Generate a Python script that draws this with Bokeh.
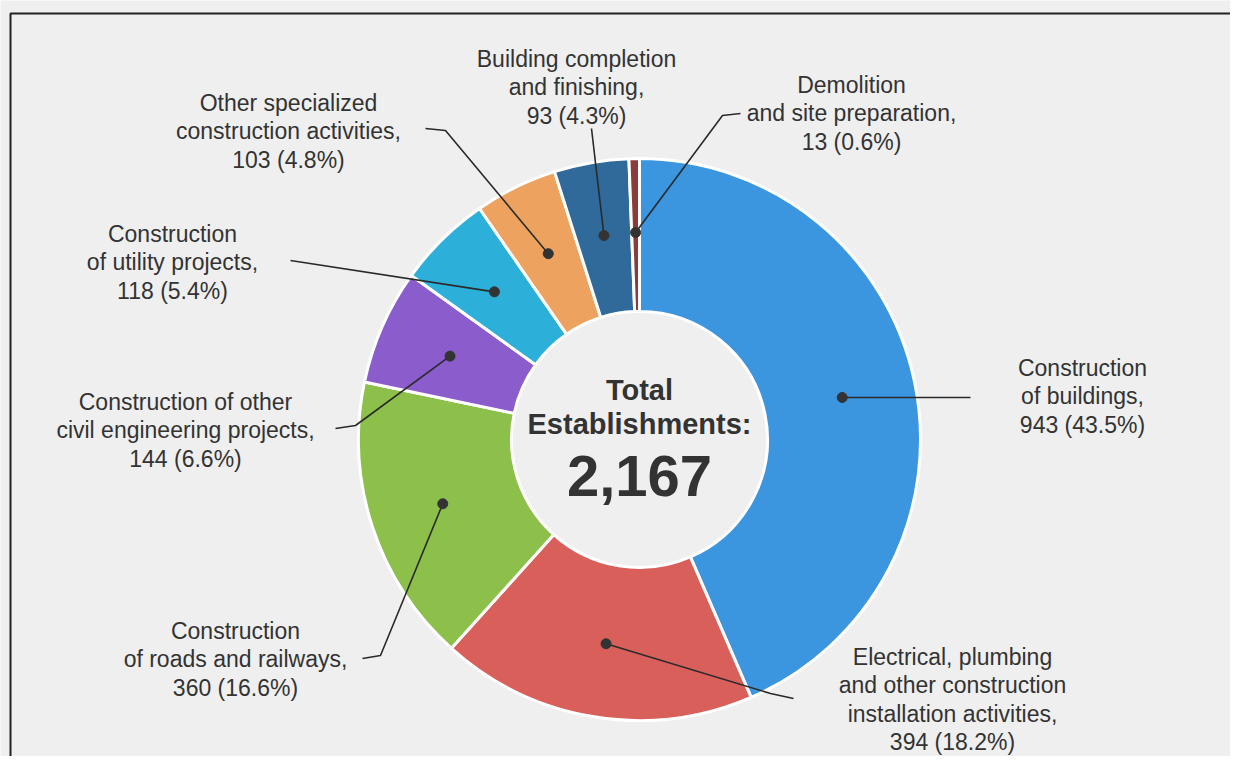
import math
from bokeh.plotting import figure
from bokeh.models import Range1d, ColumnDataSource
from bokeh.core.properties import value
from bokeh.embed import file_html
from bokeh.resources import INLINE

# ---- data ----
categories = [
    "Construction\nof buildings",
    "Electrical, plumbing\nand other construction\ninstallation activities",
    "Construction\nof roads and railways",
    "Construction of other\ncivil engineering projects",
    "Construction\nof utility projects",
    "Other specialized\nconstruction activities",
    "Building completion\nand finishing",
    "Demolition\nand site preparation",
]
counts = [943, 394, 360, 144, 118, 103, 93, 13]
percents = [43.5, 18.2, 16.6, 6.6, 5.4, 4.8, 4.3, 0.6]
total_establishments = 2167
colors = ["#3b95df", "#d95f5b", "#8dbf4b", "#8b5ccb", "#2cb0da", "#eda35f", "#2f6a9b", "#8c3b3b"]

# ---- layout (screen pixel coordinates; y measured from top) ----
W, H = 1230, 756
def Y(y):
    return H - y

CX, CY = 639, 439
R_IN, R_OUT, R_DOT = 128, 281, 207

# label block centers and leader elbow points (layout only)
label_pos = [(1082, 396), (952, 699), (235, 659), (185, 430),
             (172, 262), (288, 131), (576, 87), (851, 113)]
leader_pts = [
    [(970, 397)],
    [(770, 693), (793, 698)],
    [(380, 655), (362, 658)],
    [(355, 425), (335, 428)],
    [(290, 260)],
    [(445, 130), (425, 128)],
    [(591, 128)],
    [(722, 115), (740, 113)],
]

p = figure(width=W, height=H, x_range=Range1d(0, W), y_range=Range1d(0, H),
           output_backend="svg", toolbar_location=None, min_border=0)
p.axis.visible = False
p.grid.visible = False
p.outline_line_color = None
p.background_fill_color = "#efefef"
p.border_fill_color = "#efefef"

# frame lines
p.line([10, 10, 1250], [Y(780), Y(13), Y(13)], line_color="#222222", line_width=2)

# wedges
tot = sum(counts)
starts, ends, mids = [], [], []
cum = 0
for c in counts:
    a0 = math.pi / 2 - 2 * math.pi * (cum + c) / tot
    a1 = math.pi / 2 - 2 * math.pi * cum / tot
    starts.append(a0)
    ends.append(a1)
    mids.append((a0 + a1) / 2)
    cum += c

src = ColumnDataSource(dict(start=starts, end=ends, color=colors))
p.annular_wedge(x=CX, y=Y(CY), inner_radius=R_IN, outer_radius=R_OUT,
                start_angle="start", end_angle="end", fill_color="color",
                line_color="white", line_width=3, source=src)

# leader lines and dots
dx = [CX + R_DOT * math.cos(m) for m in mids]
dy = [Y(CY) + R_DOT * math.sin(m) for m in mids]
for i in range(len(counts)):
    xs = [dx[i]] + [pt[0] for pt in leader_pts[i]]
    ys = [dy[i]] + [Y(pt[1]) for pt in leader_pts[i]]
    p.line(xs, ys, line_color="#2a2a2a", line_width=1.6)
p.scatter(dx, dy, size=10, fill_color="#333333", line_color="#333333")

# labels
texts = [f"{categories[i]},\n{counts[i]:,} ({percents[i]}%)" for i in range(len(counts))]
p.text(x=[lp[0] for lp in label_pos], y=[Y(lp[1]) for lp in label_pos], text=texts,
       text_align="center", text_baseline="middle", text_font=value("Liberation Sans"),
       text_font_size="23px", text_color="#333333", text_line_height=1.09)

# center text
p.text(x=[CX, CX], y=[Y(389), Y(423)], text=["Total", "Establishments:"],
       text_align="center", text_baseline="middle", text_font=value("Liberation Sans"),
       text_font_style="bold", text_font_size="29px", text_color="#333333")
p.text(x=[CX], y=[Y(475)], text=[f"{total_establishments:,}"],
       text_align="center", text_baseline="middle", text_font=value("Liberation Sans"),
       text_font_style="bold", text_font_size="58px", text_color="#333333")

open("out.html", "w").write(file_html(p, INLINE))
